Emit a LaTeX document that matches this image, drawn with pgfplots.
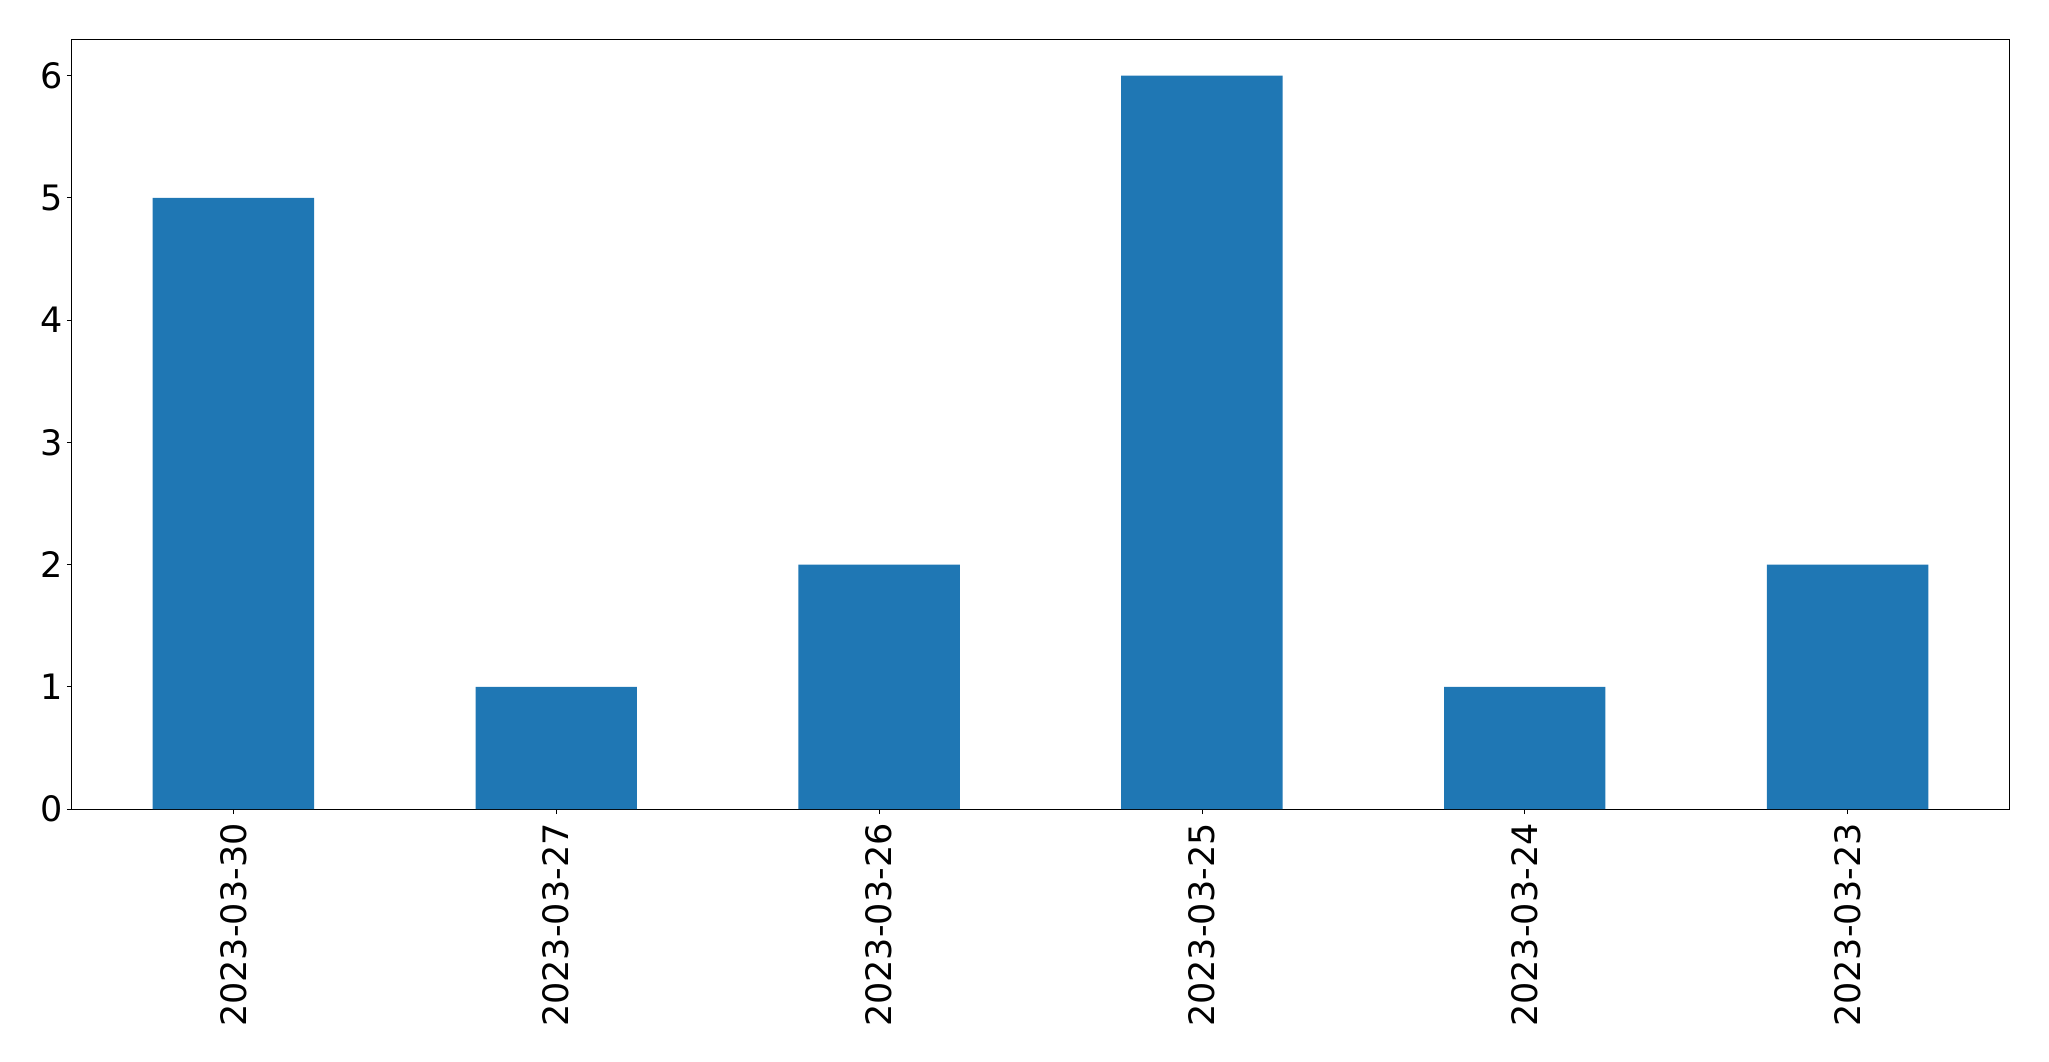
\documentclass[border=0pt]{standalone}
\usepackage{pgfplots}
\pgfplotsset{compat=1.18}
\usepackage{fontspec}
\setmainfont{DejaVu Sans}
\definecolor{tabblue}{HTML}{1F77B4}
\begin{document}
\fontsize{17.5pt}{21pt}\selectfont
\begin{tikzpicture}
\path (-36pt,-126pt) rectangle (988.5pt,404.5pt);
\begin{axis}[
  at={(0,0)}, anchor=south west,
  scale only axis,
  width=968.5pt, height=385pt,
  xmin=-0.5, xmax=5.5, ymin=0, ymax=6.3,
  xtick={0,1,2,3,4,5},
  xticklabels={2023-03-30,2023-03-27,2023-03-26,2023-03-25,2023-03-24,2023-03-23},
  ytick={0,1,2,3,4,5,6},
  tick align=outside,
  xtick pos=bottom, ytick pos=left,
  major tick length=2.5pt,
  tick style={black, line width=0.4pt},
  axis line style={black, line width=0.5pt},
  /pgf/number format/assume math mode=true,
  ticklabel style={font=\fontsize{17.5pt}{21pt}\selectfont},
  xticklabel style={rotate=90, anchor=east, inner sep=0pt, xshift=0pt},
  yticklabel style={inner sep=0pt, xshift=-2pt},
  xticklabel shift=4.5pt,
]
\addplot[ybar, bar width=0.5, fill=tabblue, draw=none] coordinates {
(0,5) (1,1) (2,2) (3,6) (4,1) (5,2)
};
\end{axis}
\end{tikzpicture}
\end{document}
